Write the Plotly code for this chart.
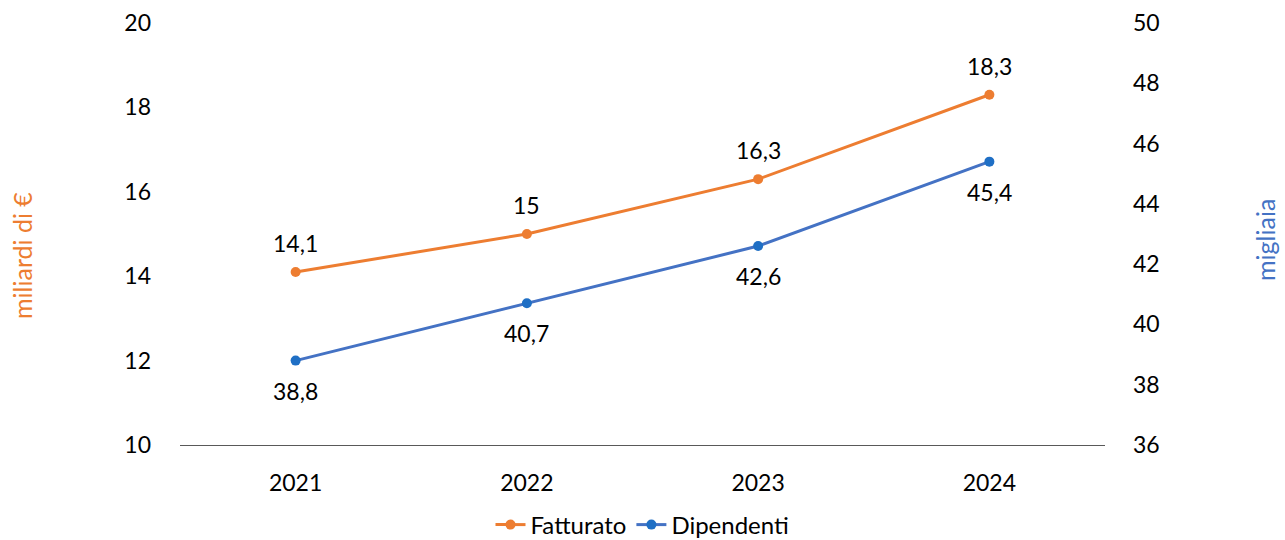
import plotly.graph_objects as go

years = ["2021", "2022", "2023", "2024"]
fatturato = [14.1, 15.0, 16.3, 18.3]
dipendenti = [38.8, 40.7, 42.6, 45.4]
fatt_labels = ["14,1", "15", "16,3", "18,3"]
dip_labels = ["38,8", "40,7", "42,6", "45,4"]
left_ticks = [10, 12, 14, 16, 18, 20]
right_ticks = [36, 38, 40, 42, 44, 46, 48, 50]

ORANGE = "#ED7D31"
BLUE = "#4472C4"
FONT = "Lato, 'Open Sans', sans-serif"
FS = 23

fig = go.Figure()
fig.add_trace(go.Scatter(
    x=years, y=fatturato, name="Fatturato", mode="lines+markers",
    line=dict(color=ORANGE, width=3), marker=dict(color=ORANGE, size=10),
    yaxis="y"))
fig.add_trace(go.Scatter(
    x=years, y=dipendenti, name="Dipendenti", mode="lines+markers",
    line=dict(color=BLUE, width=3), marker=dict(color="#1F6FC5", size=10),
    yaxis="y2"))

annotations = []
for i, (y, t) in enumerate(zip(fatturato, fatt_labels)):
    annotations.append(dict(x=i, y=y, xref="x", yref="y", text=t, showarrow=False,
                            yshift=29, font=dict(size=FS, color="#000000", family=FONT)))
for i, (y, t) in enumerate(zip(dipendenti, dip_labels)):
    annotations.append(dict(x=i, y=y, xref="x", yref="y2", text=t, showarrow=False,
                            yshift=-30, font=dict(size=FS, color="#000000", family=FONT)))
annotations.append(dict(x=(22 - 180) / 925, y=(445 - 256) / 422, xref="paper", yref="paper",
                        xanchor="center", yanchor="middle",
                        text="miliardi di €", textangle=-90, showarrow=False,
                        font=dict(size=25, color=ORANGE, family=FONT)))
annotations.append(dict(x=(1265 - 180) / 925, y=(445 - 240) / 422, xref="paper", yref="paper",
                        xanchor="center", yanchor="middle",
                        text="migliaia", textangle=-90, showarrow=False,
                        font=dict(size=25, color=BLUE, family=FONT)))

fig.update_layout(
    width=1285, height=540,
    margin=dict(l=180, r=180, t=23, b=95, autoexpand=False),
    paper_bgcolor="white", plot_bgcolor="white",
    font=dict(family=FONT, size=FS, color="#000000"),
    showlegend=True,
    legend=dict(orientation="h", x=0.5, xanchor="center", y=(445 - 525) / 422,
                yanchor="middle", bgcolor="rgba(0,0,0,0)",
                font=dict(size=24, color="#000000", family=FONT), itemwidth=30,
                tracegroupgap=0),
    xaxis=dict(type="category", range=[-0.5, 3.5], showgrid=False, zeroline=False,
               showline=True, linecolor="#595959", linewidth=1.3,
               ticks="", ticklabelstandoff=17, tickfont=dict(size=FS)),
    yaxis=dict(range=[10, 20], tickvals=left_ticks, showgrid=False, zeroline=False,
               showline=False, ticks="", ticklabelstandoff=28, tickfont=dict(size=FS)),
    yaxis2=dict(range=[36, 50], tickvals=right_ticks, overlaying="y", side="right",
                showgrid=False, zeroline=False, showline=False, ticks="",
                ticklabelstandoff=27, tickfont=dict(size=FS)),
    annotations=annotations,
)

fig.write_html("out.html")
